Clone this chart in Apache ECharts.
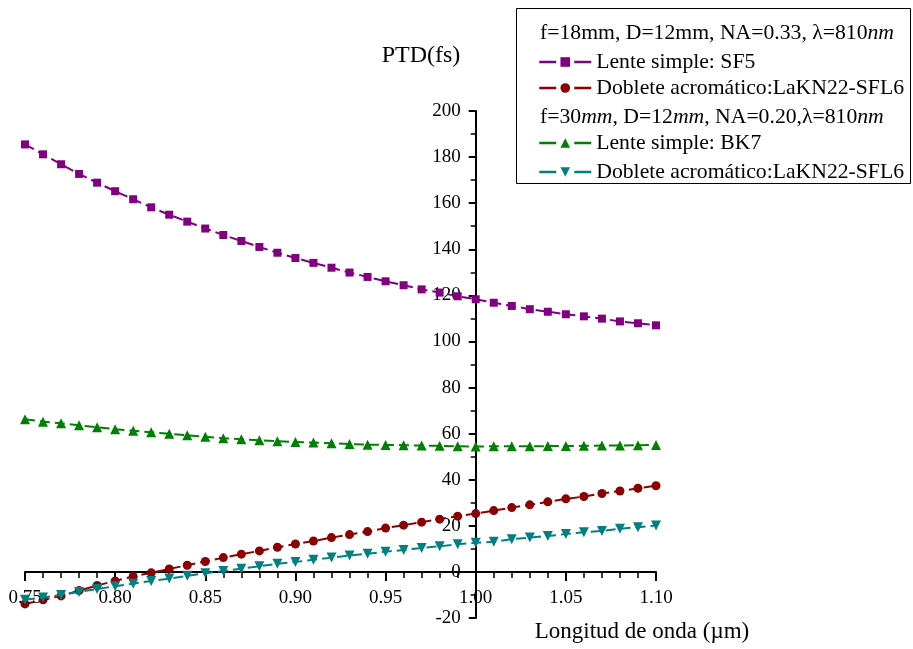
<!DOCTYPE html>
<html><head><meta charset="utf-8">
<script src="https://cdn.jsdelivr.net/npm/echarts@6/dist/echarts.min.js"></script>
<style>html,body{margin:0;padding:0;background:#fff}#c{width:913px;height:649px}</style>
</head><body><div id="c"></div>
<script>
const wavelength = [0.75,0.76,0.77,0.78,0.79,0.80,0.81,0.82,0.83,0.84,0.85,0.86,0.87,0.88,0.89,0.90,0.91,0.92,0.93,0.94,0.95,0.96,0.97,0.98,0.99,1.00,1.01,1.02,1.03,1.04,1.05,1.06,1.07,1.08,1.09,1.10];
const sf5 = [185.5,181.2,176.9,172.7,168.9,165.2,161.7,158.2,155.0,152.0,149.0,146.2,143.6,141.0,138.5,136.2,134.1,132.0,129.9,128.0,126.1,124.4,122.6,121.2,119.6,118.3,116.8,115.4,114.0,112.9,111.8,110.9,109.9,108.7,107.9,107.0];
const doublet1 = [-13.9,-12.1,-10.4,-8.1,-5.9,-3.9,-2.0,-0.4,1.3,2.9,4.5,6.2,7.7,9.1,10.7,12.1,13.4,14.9,16.2,17.5,19.0,20.3,21.6,22.9,24.2,25.3,26.6,27.9,29.1,30.4,31.7,32.7,34.0,35.1,36.3,37.4];
const bk7 = [66.2,65.2,64.5,63.6,62.8,61.9,61.2,60.6,59.9,59.3,58.7,58.0,57.6,57.1,56.7,56.4,56.1,55.8,55.5,55.2,55.1,55.0,54.8,54.7,54.5,54.4,54.5,54.5,54.5,54.6,54.6,54.7,54.8,54.8,55.0,55.1];
const doublet2 = [-12.1,-11.1,-10.0,-8.7,-7.4,-6.2,-5.1,-3.9,-2.9,-1.7,-0.6,0.4,1.4,2.5,3.5,4.3,5.3,6.2,7.1,7.9,8.8,9.5,10.4,11.1,12.0,12.6,13.1,14.2,14.9,15.6,16.4,17.2,17.8,18.7,19.4,20.1];
const seriesIds = ['s1','s2','s3','s4'];
const seriesLabels = ['Lente simple: SF5','Doblete acromático:LaKN22-SFL6','Lente simple: BK7','Doblete acromático:LaKN22-SFL6'];
const yTicks = {min:-20, max:200, step:20};
const xTicks = {min:0.75, max:1.10, step:0.05};

const FONT = '"Liberation Serif","Times New Roman",serif';
const colors = ['#800080','#8b0000','#008000','#008080'];
const symbols = ['rect','circle','triangle','path://M0,0 L10,0 L5,9 Z'];
const symSizes = [8,9,10,10];
const allData = [sf5, doublet1, bk7, doublet2];

// plot area geometry
const G = {left:25, right:257, top:111, bottom:31};
const plotH = 649 - G.top - G.bottom;
const zeroBottom = G.bottom + plotH * (0 - yTicks.min) / (yTicks.max - yTicks.min);
const yAxisLeft = G.left + (913 - G.left - G.right) * (1.0 - xTicks.min) / (xTicks.max - xTicks.min);

const chart = echarts.init(document.getElementById('c'));
const legendTops = [62,88,143,172];
const LF = 21.7;
const option = {
  backgroundColor:'#fff',
  animation:false,
  grid:[
    {left:G.left, right:G.right, top:G.top, bottom:G.bottom},
    {left:yAxisLeft, right:G.right, top:G.top, bottom:G.bottom},
    {left:G.left, right:G.right, top:G.top, bottom:zeroBottom}
  ],
  xAxis:[
    {type:'value', gridIndex:0, min:xTicks.min, max:xTicks.max, interval:xTicks.step, show:false},
    {type:'value', gridIndex:1, min:0, max:1, show:false},
    {type:'value', gridIndex:2, min:xTicks.min, max:xTicks.max, interval:xTicks.step, position:'bottom',
     axisLine:{onZero:false, lineStyle:{color:'#000', width:2}},
     axisTick:{show:true, length:9, lineStyle:{color:'#000', width:2}},
     minorTick:{show:true, splitNumber:5, length:6, lineStyle:{color:'#000', width:1.5}},
     splitLine:{show:false},
     axisLabel:{color:'#000', fontFamily:FONT, fontSize:19, margin:17, formatter:v=>v.toFixed(2), showMinLabel:true, showMaxLabel:true}}
  ],
  yAxis:[
    {type:'value', gridIndex:0, min:yTicks.min, max:yTicks.max, interval:yTicks.step, show:false},
    {type:'value', gridIndex:1, min:yTicks.min, max:yTicks.max, interval:yTicks.step, position:'left',
     axisLine:{show:true, onZero:false, lineStyle:{color:'#000', width:2}},
     axisTick:{show:true, length:7, lineStyle:{color:'#000', width:2}},
     minorTick:{show:true, splitNumber:2, length:5, lineStyle:{color:'#000', width:1.5}},
     splitLine:{show:false},
     axisLabel:{color:'#000', fontFamily:FONT, fontSize:19, margin:15}},
    {type:'value', gridIndex:2, min:0, max:1, show:false}
  ],
  legend: seriesIds.map((id,i)=>({
    data:[id], orient:'vertical', left:538, top:legendTops[i]-11, padding:0,
    itemWidth:52, itemHeight:12, itemGap:0, selectedMode:false,
    formatter:()=>seriesLabels[i],
    lineStyle:{type:[17,18], width:2.5},
    textStyle:{color:'#000', fontFamily:FONT, fontSize:LF, lineHeight:22, padding:[0,0,0,0]}
  })),
  series: seriesIds.map((id,i)=>({
    id:id, name:id, type:'line', xAxisIndex:0, yAxisIndex:0,
    data: wavelength.map((x,k)=>[x, allData[i][k]]),
    symbol:symbols[i], symbolSize:symSizes[i],
    itemStyle:{color:colors[i]},
    lineStyle:{color:colors[i], width:2, type:[10,5]},
    z: 2+i
  })),
  graphic:[
    {type:'rect', shape:{x:516.5, y:8.5, width:394, height:175}, style:{fill:'#fff', stroke:'#000', lineWidth:1}, z:-1},
    {type:'text', left:540, top:33-11, style:{fontFamily:FONT, fontSize:LF, fill:'#000',
      text:'{n|f=18mm, D=12mm, NA=0.33, λ=810}{i|nm}', rich:{n:{fontFamily:FONT,fontSize:LF}, i:{fontFamily:FONT,fontSize:LF,fontStyle:'italic'}}}},
    {type:'text', left:540, top:117-11, style:{fontFamily:FONT, fontSize:LF, fill:'#000',
      text:'{n|f=30}{i|mm}{n|, D=12}{i|mm}{n|, NA=0.20,λ=810}{i|nm}', rich:{n:{fontFamily:FONT,fontSize:LF}, i:{fontFamily:FONT,fontSize:LF,fontStyle:'italic'}}}},
    {type:'text', x:421, y:56, style:{text:'PTD(fs)', fontFamily:FONT, fontSize:24, fill:'#000', align:'center', verticalAlign:'middle'}},
    {type:'text', x:642, y:632, style:{text:'Longitud de onda (µm)', fontFamily:FONT, fontSize:23, fill:'#000', align:'center', verticalAlign:'middle'}}
  ]
};
chart.setOption(option);
</script></body></html>
